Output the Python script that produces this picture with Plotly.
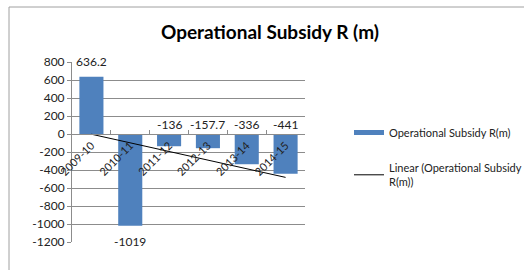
import numpy as np
import plotly.graph_objects as go

categories = ["2009-10", "2010-11", "2011-12", "2012-13", "2013-14", "2014-15"]
values = [636.2, -1019, -136, -157.7, -336, -441]
value_labels = ["636.2", "-1019", "-136", "-157.7", "-336", "-441"]
label_modes = ["end_above", "end_below", "zero_above", "zero_above", "zero_above", "zero_above"]
y_ticks = [800, 600, 400, 200, 0, -200, -400, -600, -800, -1000, -1200]

title_text = "Operational Subsidy R (m)"
bar_name = "Operational Subsidy R(m)"
trend_name = "Linear (Operational Subsidy<br>R(m))"

FONT = "Lato, Calibri, Arial, sans-serif"
BAR_COLOR = "#4F81BD"
GRID = "#8C8C8C"

# linear trendline from data
xi = np.arange(1, len(values) + 1)
slope, intercept = np.polyfit(xi, values, 1)
trend = slope * xi + intercept

W, H = 524, 270
ml, mr, mt, mb = 72, 219, 62, 28
pw, ph = W - ml - mr, H - mt - mb

def px_x(p):
    return (p - ml) / pw

def px_y(p):
    return (H - mb - p) / ph

fig = go.Figure()
fig.add_trace(go.Bar(
    x=categories, y=values, name=bar_name, marker_color=BAR_COLOR,
    marker_line_width=0, showlegend=False,
))
# legend-only entry giving the bar series a wide, flat swatch
fig.add_trace(go.Scatter(
    x=[None], y=[None], mode="lines", name=bar_name,
    line=dict(color=BAR_COLOR, width=5), legendgroup="a", showlegend=True,
))
fig.add_trace(go.Scatter(
    x=categories, y=trend, mode="lines", name=trend_name,
    line=dict(color="black", width=1), legendgroup="b",
))

annotations = []
for c, v, t, m in zip(categories, values, value_labels, label_modes):
    if m == "end_above":
        annotations.append(dict(x=c, y=v, text=t, showarrow=False, yanchor="bottom", yshift=6))
    elif m == "end_below":
        annotations.append(dict(x=c, y=v, text=t, showarrow=False, yanchor="top", yshift=-6))
    else:
        annotations.append(dict(x=c, y=0, text=t, showarrow=False, yanchor="bottom", yshift=0))
for a in annotations:
    a.update(xref="x", yref="y", font=dict(family=FONT, size=12, color="#222"))

fig.update_layout(
    width=W, height=H,
    margin=dict(l=ml, r=mr, t=mt, b=mb, autoexpand=False),
    paper_bgcolor="white", plot_bgcolor="white",
    title=dict(text="<b>" + title_text + "</b>", x=px_x(270), xref="paper", xanchor="center",
               y=1 - 32 / H, yref="container", yanchor="middle",
               font=dict(family=FONT, size=19, color="black")),
    bargap=0.38,
    showlegend=True,
    legend=dict(x=px_x(349), y=px_y(118), xanchor="left", yanchor="top",
                font=dict(family=FONT, size=11, color="#222"),
                tracegroupgap=17, traceorder="grouped", bgcolor="rgba(0,0,0,0)",
                itemwidth=30),
    annotations=annotations,
    shapes=[
        dict(type="rect", xref="paper", yref="paper",
             x0=px_x(9), x1=px_x(540), y0=px_y(285), y1=px_y(7),
             line=dict(color="#A0A0A0", width=1), layer="below"),
    ],
)

fig.update_yaxes(
    range=[-1200, 800], tickvals=y_ticks, ticktext=[str(v) for v in y_ticks],
    showgrid=True, gridcolor=GRID, gridwidth=1,
    zeroline=True, zerolinecolor=GRID, zerolinewidth=1,
    showline=True, linecolor=GRID, linewidth=1,
    ticks="outside", ticklen=4, tickcolor=GRID,
    tickfont=dict(family=FONT, size=12, color="#222"),
    fixedrange=True, automargin=False,
)
fig.update_xaxes(
    type="category", anchor="free", position=0.6,
    showgrid=False, showline=True, linecolor=GRID, linewidth=1,
    ticks="inside", tickson="boundaries", ticklen=4, tickcolor=GRID,
    tickangle=-45, tickfont=dict(family=FONT, size=11, color="#222"),
    fixedrange=True, automargin=False,
)

fig.write_html(
    "out.html",
    config={"displayModeBar": False},
    post_script="document.body.style.margin='0';document.body.style.overflow='hidden';",
)
